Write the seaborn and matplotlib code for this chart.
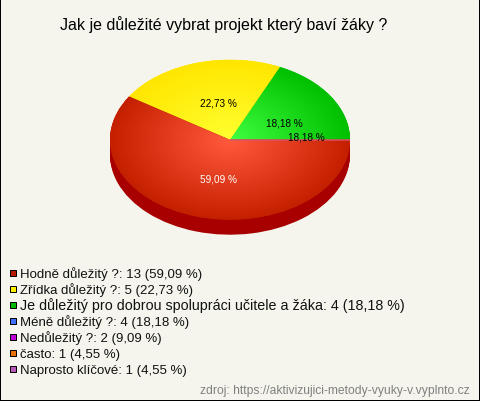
import matplotlib

matplotlib.use('agg')
import matplotlib.pyplot as plt
import numpy as np
import seaborn as sns
from matplotlib.colors import LinearSegmentedColormap
from matplotlib.patches import Rectangle

title = 'Jak je důležité vybrat projekt který baví žáky ?'
source = 'zdroj: https://aktivizujici-metody-vyuky-v.vyplnto.cz'

legend_names = ['Hodně důležitý ?', 'Zřídka důležitý ?',
                'Je důležitý pro dobrou spolupráci učitele a žáka',
                'Méně důležitý ?', 'Nedůležitý ?', 'často', 'Naprosto klíčové']
legend_counts = [13, 5, 4, 4, 2, 1, 1]
legend_percents = ['59,09', '22,73', '18,18', '18,18', '9,09', '4,55', '4,55']
legend_colors = ['#b81800', '#ffee00', '#00b800', '#3f6fff', '#c000d8', '#e87000', '#b858b8']
legend_sizes = [13.3, 13.3, 14.3, 13.3, 13.3, 13.3, 13.3]

# the pie only really shows these three, counter clockwise from the east
pie_counts = [4, 5, 13]
pie_inner = ['#40ff40', '#ffff30', '#ff5a3c']
pie_outer = ['#00c000', '#ffe600', '#c42000']
pie_side = ['#008000', '#b09000', '#a80000']

pie_labels = ['59,09 %', '22,73 %', '18,18 %', '18,18 %']
label_colors = ['white', 'black', 'black', 'black']
label_pos = [(219, 180), (218, 104), (284, 123), (306, 138)]

W, H = 480, 402
CX, CY, RX, RY, DEPTH = 230, 140.7, 120, 80, 15
BG = '#f5f5ee'

sns.set_theme(style='white')
plt.rcParams['font.family'] = ['Liberation Sans', 'DejaVu Sans']


def px(size):
    return size * 72 / 100


fig = plt.figure(figsize=(W / 100, H / 100), dpi=100, facecolor=BG)

# pie axes: one data unit is one radius, so the circle comes out squashed
ax = fig.add_axes([0, 0, 1, 1])
for d in range(DEPTH, 0, -1):
    ax.pie(pie_counts, colors=pie_side, center=(0, -d / RY), radius=1, startangle=0,
           wedgeprops={'linewidth': 0})

wedges, _ = ax.pie(pie_counts, colors=pie_outer, radius=1, startangle=0,
                   wedgeprops={'linewidth': 0})

yy, xx = np.mgrid[-1:1:300j, -1:1:300j]
dist = np.clip(np.sqrt(xx ** 2 + yy ** 2), 0, 1)
for wedge, inner, outer in zip(wedges, pie_inner, pie_outer):
    cmap = LinearSegmentedColormap.from_list('slice', [inner, outer])
    im = ax.imshow(dist, cmap=cmap, extent=(-1, 1, -1, 1), origin='lower', vmin=0, vmax=1,
                   aspect='auto', zorder=3)
    im.set_clip_path(wedge)

# the slices left over have no angle, only their edge is visible
ax.plot([0, 1], [0, 0], color='#d8506a', lw=px(1.5), zorder=4, solid_capstyle='butt')

ax.set_aspect('auto')
ax.set_xlim(-CX / RX, (W - CX) / RX)
ax.set_ylim((CY - H) / RY, CY / RY)
ax.axis('off')

# overlay in pixels for all the text
top = fig.add_axes([0, 0, 1, 1], facecolor='none')
top.set_xlim(0, W)
top.set_ylim(H, 0)
top.set_xticks([])
top.set_yticks([])
for spine in top.spines.values():
    spine.set_visible(True)
    spine.set_color('black')
    spine.set_linewidth(px(2))

top.text(224, 25, title, fontsize=px(16), color='black', ha='center', va='center')

for text, color, (x, y) in zip(pie_labels, label_colors, label_pos):
    top.text(x, y, text, fontsize=px(10), color=color, ha='center', va='center')

for i, name in enumerate(legend_names):
    base = 278.4 + i * 16
    top.add_patch(Rectangle((10, base - 7.4), 6, 6, facecolor=legend_colors[i], edgecolor='black', lw=px(1)))
    top.text(20, base, f'{name}: {legend_counts[i]} ({legend_percents[i]} %)', fontsize=px(legend_sizes[i]),
             color='#111111', ha='left', va='baseline')

top.text(470, 394, source, fontsize=px(12.15), color='#808080', ha='right', va='baseline')

plt.savefig('out.png', dpi=100, facecolor=BG)
